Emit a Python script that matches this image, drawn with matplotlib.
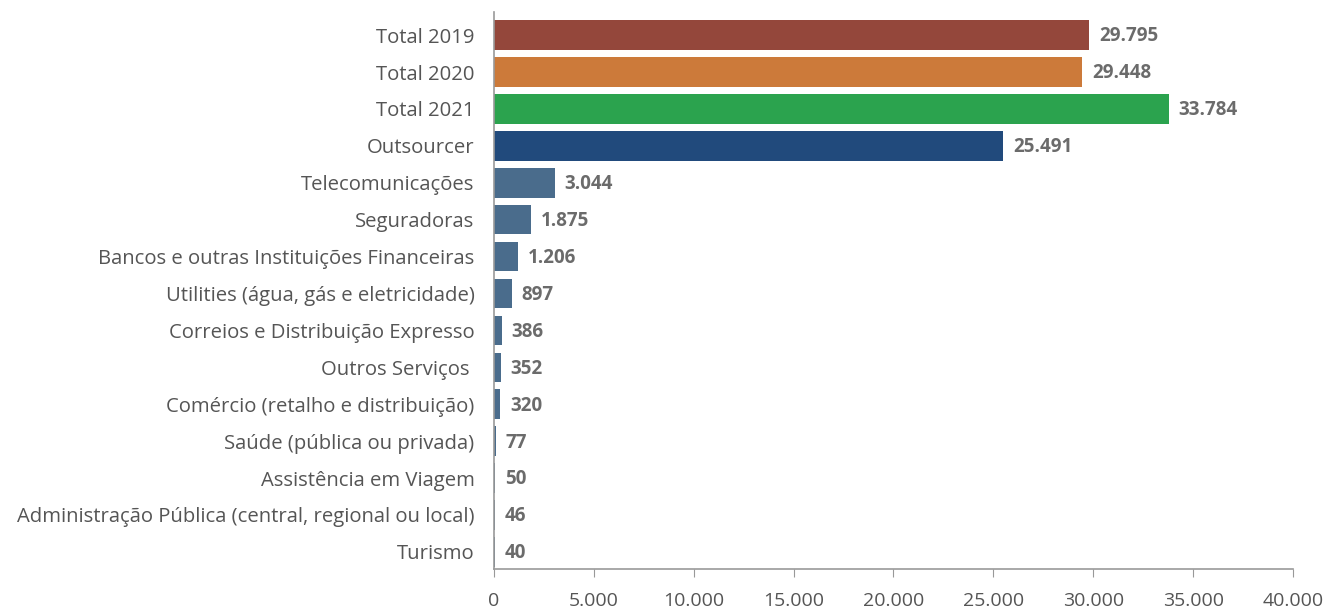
import matplotlib.pyplot as plt
from matplotlib.ticker import FuncFormatter

categories = ["Total 2019", "Total 2020", "Total 2021", "Outsourcer",
              "Telecomunicações", "Seguradoras",
              "Bancos e outras Instituições Financeiras",
              "Utilities (água, gás e eletricidade)",
              "Correios e Distribuição Expresso", "Outros Serviços ",
              "Comércio (retalho e distribuição)", "Saúde (pública ou privada)",
              "Assistência em Viagem",
              "Administração Pública (central, regional ou local)", "Turismo"]
values = [29795, 29448, 33784, 25491, 3044, 1875, 1206, 897, 386, 352,
          320, 77, 50, 46, 40]
bar_colors = ["#94473B", "#CC7A3A", "#2BA34E", "#214A7C"] + ["#4A6C8C"] * 11
x_ticks = [0, 5000, 10000, 15000, 20000, 25000, 30000, 35000, 40000]


def pt_number(v):
    # thousands separated with a dot
    return f"{int(v):,}".replace(",", ".")


plt.rcParams['font.family'] = ['Open Sans', 'DejaVu Sans']

fig = plt.figure(figsize=(13.28, 6.11), dpi=100)
ax = fig.add_axes([0.372, 0.069, 0.6016, 0.911])

ypos = range(len(categories))
ax.barh(ypos, values, height=0.8, color=bar_colors)

for y, v in zip(ypos, values):
    ax.annotate(pt_number(v), (v, y), xytext=(7, -1), textcoords="offset points",
                va="center", ha="left", fontsize=13.5, fontweight="bold",
                color="#6B6B6B")

ax.set_yticks(list(ypos))
ax.set_yticklabels(categories, fontsize=14.6, color="#555555")
ax.tick_params(axis="y", length=0, pad=14)

ax.set_xlim(0, 40000)
ax.set_xticks(x_ticks)
ax.xaxis.set_major_formatter(FuncFormatter(lambda v, p: pt_number(v)))
ax.tick_params(axis="x", length=6, color="#999999", labelsize=14,
               labelcolor="#555555", pad=11)
ax.set_ylim(14.46, -0.62)

for side in ["top", "right"]:
    ax.spines[side].set_visible(False)
for side in ["left", "bottom"]:
    ax.spines[side].set_color("#999999")
    ax.spines[side].set_linewidth(1.2)

fig.savefig("out.png", dpi=100)
